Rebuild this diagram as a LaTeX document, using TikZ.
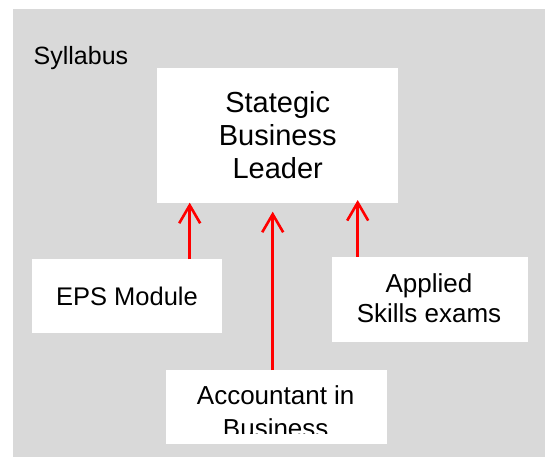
\documentclass[tikz,border=0pt]{standalone}
\usepackage{fontspec}
\setmainfont{Liberation Sans}
\usetikzlibrary{arrows.meta}
\definecolor{bggray}{RGB}{217,217,217}
\begin{document}
\begin{tikzpicture}[x=1pt,y=-1pt,
  box/.style={fill=white,draw=none,inner sep=0pt,outer sep=0pt,anchor=north west},
  lbl/.style={inner sep=0pt,outer sep=0pt,anchor=base,align=center},
  arr/.style={draw=red,line width=2.6pt,-{Straight Barb[length=18pt,width=21pt]}}]
\useasboundingbox (0,0) rectangle (545,457);
\fill[bggray] (13.3,9) rectangle (545,457);
\node[inner sep=0pt,anchor=base west,font=\fontsize{25}{29}\selectfont] (syl) at (33.5,65) {Syllabus};
% boxes
\node[box,minimum width=240.4pt,minimum height=134.7pt] (top) at (157.3,68) {};
\node[box,minimum width=190pt,minimum height=74pt] (eps) at (32,259.3) {};
\node[box,minimum width=196pt,minimum height=85pt] (app) at (332,256.7) {};
\node[box,minimum width=221pt,minimum height=73.7pt] (acc) at (166,370) {};
% texts (anchor=base is the baseline of the last line)
\node[lbl,font=\fontsize{29}{33}\selectfont] (toptxt) at (277.7,178.3) {Stategic\\Business\\Leader};
\node[lbl,font=\fontsize{25.5}{30}\selectfont] (epstxt) at (127,305) {EPS Module};
\node[lbl,font=\fontsize{26}{30}\selectfont] (apptxt) at (429,322.7) {Applied\\Skills exams};
\begin{scope}
\clip (166,370) rectangle (387,433.3);
\node[lbl,font=\fontsize{26}{33.5}\selectfont] (acctxt) at (275.7,437.8) {Accountant in\\Business};
\end{scope}
% arrows
\draw[arr] (eps.north -| 189.7,0) -- ([yshift=0pt]top.south -| 189.7,0);
\draw[arr] (acc.north -| 272.7,0) -- ([yshift=-9pt]top.south -| 272.7,0);
\draw[arr] (app.north -| 357.7,0) -- ([yshift=2.7pt]top.south -| 357.7,0);
\end{tikzpicture}
\end{document}
